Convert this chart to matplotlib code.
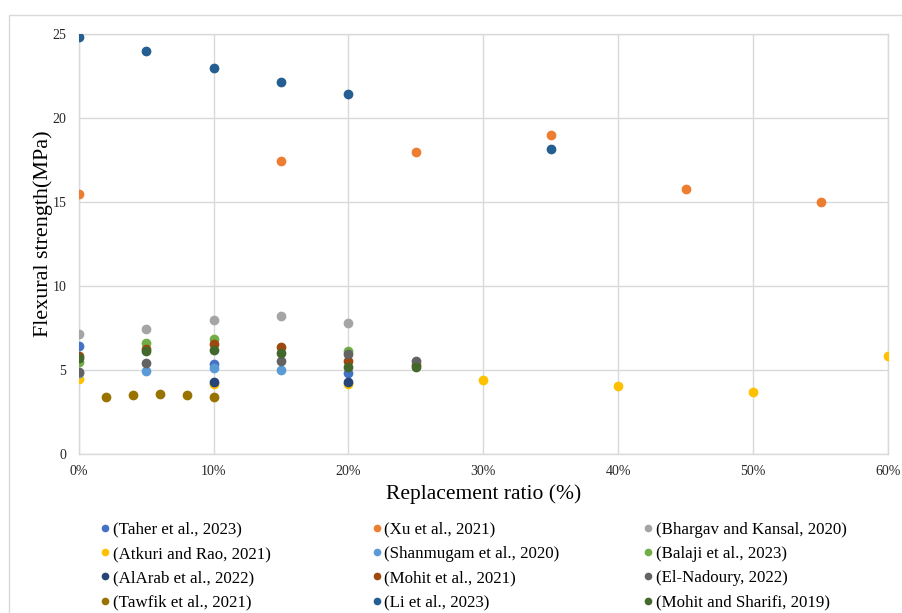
import matplotlib.pyplot as plt
from matplotlib.patches import Rectangle
from matplotlib.ticker import FuncFormatter

plt.rcParams['font.family'] = ['Liberation Serif', 'DejaVu Serif']

# Replacement ratio (%) and flexural strength (MPa) per study
taher_x = [0, 10, 20]
taher_y = [6.4, 5.38, 4.8]
xu_x = [0, 15, 25, 35, 45, 55]
xu_y = [15.5, 17.46, 18.0, 19.0, 15.8, 15.0]
bhargav_x = [0, 5, 10, 15, 20]
bhargav_y = [7.14, 7.44, 8.0, 8.21, 7.78]
atkuri_x = [0, 10, 20, 30, 40, 50, 60]
atkuri_y = [4.45, 4.17, 4.17, 4.4, 4.05, 3.68, 5.84]
shanmugam_x = [0, 5, 10, 15]
shanmugam_y = [4.82, 4.92, 5.12, 5.0]
balaji_x = [0, 5, 10, 20]
balaji_y = [5.46, 6.6, 6.83, 6.15]
alarab_x = [10, 20]
alarab_y = [4.3, 4.3]
mohit_x = [0, 5, 10, 15, 20, 25]
mohit_y = [5.83, 6.23, 6.55, 6.35, 5.54, 5.3]
nadoury_x = [0, 5, 15, 20, 25]
nadoury_y = [4.9, 5.42, 5.54, 5.95, 5.55]
tawfik_x = [2, 4, 6, 8, 10]
tawfik_y = [3.39, 3.49, 3.6, 3.49, 3.39]
li_x = [0, 5, 10, 15, 20, 35]
li_y = [24.8, 24.0, 23.0, 22.15, 21.45, 18.15]
sharifi_x = [0, 5, 10, 15, 20, 25]
sharifi_y = [5.7, 6.13, 6.17, 5.99, 5.2, 5.16]

series = [
    ('(Taher et al., 2023)', taher_x, taher_y, '#4472C4'),
    ('(Xu et al., 2021)', xu_x, xu_y, '#ED7D31'),
    ('(Bhargav and Kansal, 2020)', bhargav_x, bhargav_y, '#A5A5A5'),
    ('(Atkuri and Rao, 2021)', atkuri_x, atkuri_y, '#FFC000'),
    ('(Shanmugam et al., 2020)', shanmugam_x, shanmugam_y, '#5B9BD5'),
    ('(Balaji et al., 2023)', balaji_x, balaji_y, '#70AD47'),
    ('(AlArab et al., 2022)', alarab_x, alarab_y, '#264478'),
    ('(Mohit et al., 2021)', mohit_x, mohit_y, '#9E480E'),
    ('(El-Nadoury, 2022)', nadoury_x, nadoury_y, '#636363'),
    ('(Tawfik et al., 2021)', tawfik_x, tawfik_y, '#997300'),
    ('(Li et al., 2023)', li_x, li_y, '#255E91'),
    ('(Mohit and Sharifi, 2019)', sharifi_x, sharifi_y, '#43682B'),
]

grid_col = '#D9D9D9'

fig = plt.figure(figsize=(9.03, 6.13), dpi=100)
ax = fig.add_axes([0.0872, 0.2594, 0.8962, 0.6851])

handles = []
for label, xs, ys, col in series:
    h, = ax.plot(xs, ys, 'o', ms=6, color=col, mec=col, label=label, zorder=3)
    handles.append(h)

ax.set_xlim(0, 60)
ax.set_ylim(0, 25)
ax.set_xticks(range(0, 61, 10))
ax.set_yticks(range(0, 26, 5))
ax.xaxis.set_major_formatter(FuncFormatter(lambda v, p: f'{v:.0f}%'))
ax.grid(True, color=grid_col, lw=1.0, zorder=0)
ax.set_axisbelow(True)
for s in ax.spines.values():
    s.set_color(grid_col)
    s.set_linewidth(1.0)
ax.tick_params(length=0, labelsize=10, labelcolor='#262626')
ax.tick_params(axis='y', pad=9)
ax.tick_params(axis='x', pad=8)

ax.set_xlabel('Replacement ratio (%)', fontsize=15.5)
ax.xaxis.set_label_coords(0.5, -0.071)
ax.set_ylabel('Flexural strength(MPa)', fontsize=15.9)
ax.yaxis.set_label_coords(-0.032, 0.524)

# legend laid out row by row in three fixed-width columns
col_x = [0.1121, 0.4132, 0.7143]
for c in range(3):
    idx = list(range(c, len(series), 3))
    fig.legend([handles[i] for i in idx], [series[i][0] for i in idx],
               loc='upper left', bbox_to_anchor=(col_x[c], 0.1489),
               frameon=False, fontsize=12.2, handlelength=0.4,
               handletextpad=0.27, labelspacing=0.49, markerscale=0.75,
               borderpad=0, borderaxespad=0)

# outer chart frame
fig.add_artist(Rectangle((9 / 903, -0.05), 1.1, 1 - 15 / 613 + 0.05,
                         transform=fig.transFigure, fill=False,
                         edgecolor=grid_col, lw=1.0))

fig.savefig('out.png', dpi=100)
